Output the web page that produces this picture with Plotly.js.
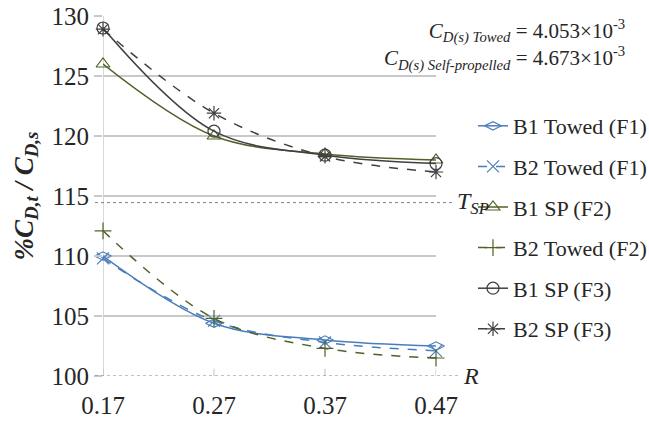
<!DOCTYPE html>
<html>
<head>
<meta charset="utf-8">
<script src="https://cdn.plot.ly/plotly-3.0.1.min.js"></script>
<style>html,body{margin:0;padding:0;background:#fff;}#chart{width:649px;height:423px;}</style>
</head>
<body>
<div id="chart"></div>
<script>
var categories = [0.17, 0.27, 0.37, 0.47];
var b1TowedF1 = [110.0, 104.4, 103.0, 102.5];
var b2TowedF1 = [109.8, 104.6, 102.8, 102.1];
var b1SpF2    = [126.0, 120.0, 118.5, 118.0];
var b2TowedF2 = [112.1, 104.8, 102.3, 101.5];
var b1SpF3    = [129.0, 120.4, 118.4, 117.7];
var b2SpF3    = [128.9, 121.9, 118.3, 117.0];
var yTicks = [100, 105, 110, 115, 120, 125, 130];
var xTickLabels = ['0.17', '0.27', '0.37', '0.47'];
var tspValue = 114.45;
var refValue = 100;

var BLUE = '#4a7ebb', GREEN = '#4f6228', GRAY = '#404040';
var FONT = 'Liberation Serif';

function tr(name, y, color, dash, symbol, grp) {
  return {
    x: categories, y: y, name: name, type: 'scatter', mode: 'lines+markers',
    legendgroup: grp, cliponaxis: false,
    line: {color: color, width: 1.5, dash: dash, shape: 'spline', smoothing: 1},
    marker: {symbol: symbol, size: 12, color: color, line: {color: color, width: 1.2}}
  };
}
var data = [
  tr('B1 Towed (F1)', b1TowedF1, BLUE, 'solid', 'diamond-wide-open', 'a'),
  tr('B2 Towed (F1)', b2TowedF1, BLUE, 'dash', 'x-thin-open', 'b'),
  tr('B1 SP (F2)', b1SpF2, GREEN, 'solid', 'triangle-up-open', 'c'),
  tr('B2 Towed (F2)', b2TowedF2, GREEN, 'dash', 'cross-thin-open', 'd'),
  tr('B1 SP (F3)', b1SpF3, GRAY, 'solid', 'circle-open', 'e'),
  tr('B2 SP (F3)', b2SpF3, GRAY, 'dash', 'asterisk-open', 'f')
];

var shapes = [];
categories.forEach(function (c) {
  shapes.push({type: 'line', xref: 'x', yref: 'y', x0: c, x1: c, y0: refValue - 0.6, y1: refValue + 0.6,
    line: {color: '#bfbfbf', width: 1}, layer: 'below'});
});
shapes.push({type: 'line', xref: 'x', yref: 'y', x0: categories[0], x1: categories[0], y0: refValue - 0.6, y1: yTicks[yTicks.length - 1],
  line: {color: '#bfbfbf', width: 1.2}, layer: 'below'});
shapes.push({type: 'line', xref: 'paper', yref: 'y', x0: -0.024, x1: 1.057, y0: tspValue, y1: tspValue,
  line: {color: '#808080', width: 1, dash: 'dot'}});
shapes.push({type: 'line', xref: 'paper', yref: 'y', x0: -0.024, x1: 1.075, y0: refValue, y1: refValue,
  line: {color: '#808080', width: 1, dash: 'dot'}});
// white mask where the annotation box hides the top gridline
shapes.push({type: 'rect', xref: 'paper', yref: 'y', x0: 0.796, x1: 1.02, y0: 129.75, y1: 130.25,
  fillcolor: '#fff', line: {width: 0}, layer: 'between'});

var layout = {
  width: 649, height: 423,
  margin: {l: 103, r: 213, t: 16, b: 47},
  paper_bgcolor: '#fff', plot_bgcolor: '#fff',
  font: {family: FONT, color: '#262626'},
  showlegend: true,
  xaxis: {
    range: [0.17, 0.47], tickvals: categories, ticktext: xTickLabels,
    showgrid: false, zeroline: false, showline: false, ticks: '',
    tickfont: {size: 25, family: FONT, color: '#262626'}, ticklabelstandoff: 12
  },
  yaxis: {
    range: [100, 130], tickvals: yTicks, showgrid: true, gridcolor: '#c8c8c8', gridwidth: 1.2,
    zeroline: false, showline: false, ticks: 'outside', ticklen: 8, tickcolor: '#c8c8c8', tickwidth: 1.2,
    tickfont: {size: 25, family: FONT, color: '#262626'},
    title: {text: '<b><i>%C<sub>D,t</sub> / C<sub>D,s</sub></i></b>', font: {size: 27, family: FONT, color: '#262626'}, standoff: 10}
  },
  legend: {
    xref: 'container', yref: 'container', x: 473 / 649, y: 1 - 105 / 423, xanchor: 'left', yanchor: 'top',
    font: {size: 22, family: FONT, color: '#262626'}, tracegroupgap: 9, itemwidth: 30,
    bgcolor: 'rgba(0,0,0,0)', maxheight: 400
  },
  shapes: shapes,
  annotations: [
    {xref: 'paper', yref: 'y', x: 1.057, y: tspValue, xanchor: 'left', yanchor: 'middle', showarrow: false,
     text: '<i>T<sub>SP</sub></i>', font: {size: 24, family: FONT, color: '#262626'}},
    {xref: 'paper', yref: 'y', x: 1.075, y: refValue, xanchor: 'left', yanchor: 'middle', showarrow: false,
     text: '<i>R</i>', font: {size: 24, family: FONT, color: '#262626'}},
    {xref: 'paper', yref: 'paper', x: (627 - 103) / 333, y: (376 - 14) / 360, xanchor: 'right', yanchor: 'top', align: 'right',
     showarrow: false, borderpad: 1,
     text: '<i>C</i><sub><i>D(s) Towed</i></sub> = 4.053×10<sup>-3</sup><br><i>C</i><sub><i>D(s) Self-propelled</i></sub> = 4.673×10<sup>-3</sup>',
     font: {size: 21, family: FONT, color: '#262626'}}
  ],
  hovermode: false
};
Plotly.newPlot('chart', data, layout, {displayModeBar: false, staticPlot: true});
</script>
</body>
</html>
